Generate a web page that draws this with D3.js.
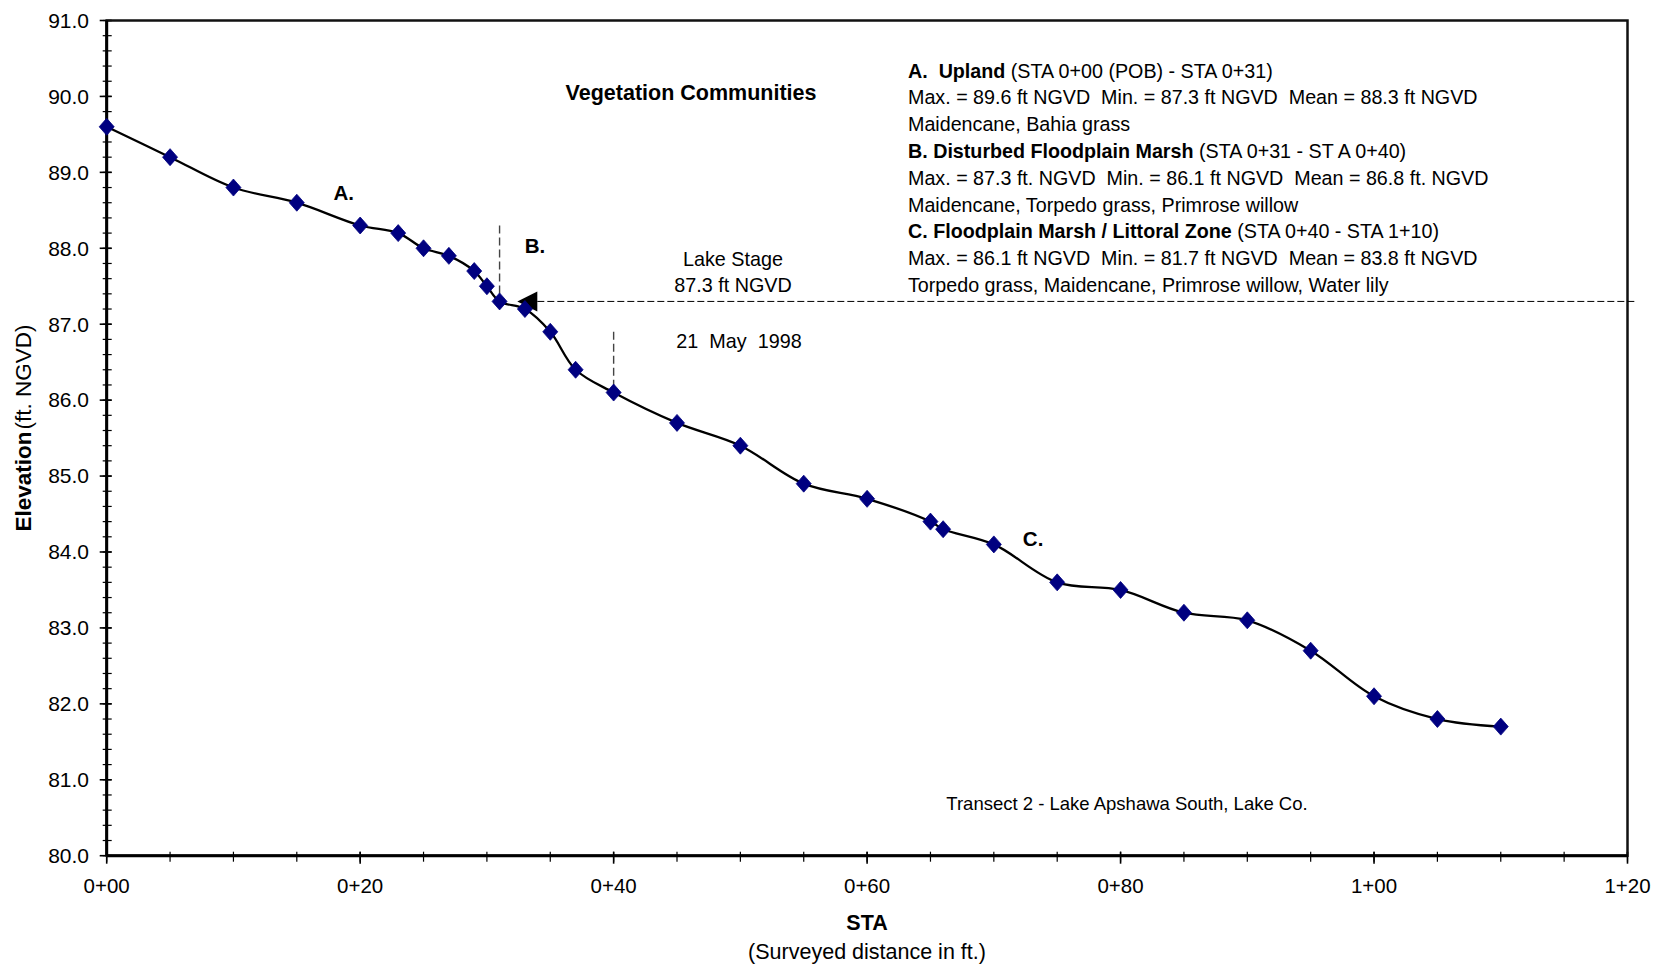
<!DOCTYPE html>
<html>
<head>
<meta charset="utf-8">
<script src="https://cdn.jsdelivr.net/npm/d3@7"></script>
<style>
  html, body { margin: 0; padding: 0; background: #fff; }
  svg { display: block; font-family: Arial, "Liberation Sans", sans-serif; }
</style>
</head>
<body>
<svg id="chart" width="1664" height="968"></svg>
<script>
// Surveyed stations (ft from POB) and ground elevations (ft NGVD)
const stations = [0, 5, 10, 15, 20, 23, 25, 27, 29, 30, 31, 33, 35, 37, 40, 45, 50, 55, 60, 65, 66, 70, 75, 80, 85, 90, 95, 100, 105, 110];
const elevations = [89.6, 89.2, 88.8, 88.6, 88.3, 88.2, 88.0, 87.9, 87.7, 87.5, 87.3, 87.2, 86.9, 86.4, 86.1, 85.7, 85.4, 84.9, 84.7, 84.4, 84.3, 84.1, 83.6, 83.5, 83.2, 83.1, 82.7, 82.1, 81.8, 81.7];

const xTicks = [0, 20, 40, 60, 80, 100, 120];
const xTickLabels = ["0+00", "0+20", "0+40", "0+60", "0+80", "1+00", "1+20"];
const yTicks = [80, 81, 82, 83, 84, 85, 86, 87, 88, 89, 90, 91];

const lakeStage = 87.3;
// Community boundaries: [station, top elevation of marker]
const boundaries = [[31, 88.3], [40, 86.9]];
const zoneLabels = [["A.", 18.7, 88.64], ["B.", 33.8, 87.94], ["C.", 73.1, 84.08]];

const legendLines = [
  [["A.  Upland", true], [" (STA 0+00 (POB) - STA 0+31)", false]],
  [["Max. = 89.6 ft NGVD  Min. = 87.3 ft NGVD  Mean = 88.3 ft NGVD", false]],
  [["Maidencane, Bahia grass", false]],
  [["B. Disturbed Floodplain Marsh", true], [" (STA 0+31 - ST A 0+40)", false]],
  [["Max. = 87.3 ft. NGVD  Min. = 86.1 ft NGVD  Mean = 86.8 ft. NGVD", false]],
  [["Maidencane, Torpedo grass, Primrose willow", false]],
  [["C. Floodplain Marsh / Littoral Zone", true], [" (STA 0+40 - STA 1+10)", false]],
  [["Max. = 86.1 ft NGVD  Min. = 81.7 ft NGVD  Mean = 83.8 ft NGVD", false]],
  [["Torpedo grass, Maidencane, Primrose willow, Water lily", false]]
];

const svg = d3.select("#chart");
const plotLeft = 106.7, plotRight = 1627.5, plotTop = 20.5, plotBottom = 855.7;

const x = d3.scaleLinear().domain([0, 120]).range([plotLeft, plotRight]);
const y = d3.scaleLinear().domain([80, 91]).range([plotBottom, plotTop]);

// Minor ticks
const xMinor = d3.range(0, 121, 5);
const yMinor = d3.range(80, 91.01, 0.2);

const g = svg.append("g");

g.selectAll("line.xminor").data(xMinor).join("line")
  .attr("x1", d => x(d)).attr("x2", d => x(d))
  .attr("y1", plotBottom - 4).attr("y2", plotBottom + 6)
  .attr("stroke", "#000").attr("stroke-width", 1.2);
g.selectAll("line.xmajor").data(xTicks).join("line")
  .attr("x1", d => x(d)).attr("x2", d => x(d))
  .attr("y1", plotBottom - 4).attr("y2", plotBottom + 8)
  .attr("stroke", "#000").attr("stroke-width", 1.6);

g.selectAll("line.yminor").data(yMinor).join("line")
  .attr("x1", plotLeft - 4).attr("x2", plotLeft + 5)
  .attr("y1", d => y(d)).attr("y2", d => y(d))
  .attr("stroke", "#000").attr("stroke-width", 1.2);
g.selectAll("line.ymajor").data(yTicks).join("line")
  .attr("x1", plotLeft - 7).attr("x2", plotLeft + 5)
  .attr("y1", d => y(d)).attr("y2", d => y(d))
  .attr("stroke", "#000").attr("stroke-width", 1.6);

// Plot frame
g.append("rect")
  .attr("x", plotLeft).attr("y", plotTop)
  .attr("width", plotRight - plotLeft).attr("height", plotBottom - plotTop)
  .attr("fill", "none").attr("stroke", "#111").attr("stroke-width", 2.5);
g.append("line")
  .attr("x1", plotLeft).attr("x2", plotRight).attr("y1", plotBottom).attr("y2", plotBottom)
  .attr("stroke", "#000").attr("stroke-width", 3);
g.append("line")
  .attr("x1", plotLeft).attr("x2", plotLeft).attr("y1", plotTop).attr("y2", plotBottom)
  .attr("stroke", "#000").attr("stroke-width", 3);

// Tick labels
g.selectAll("text.xt").data(xTicks).join("text")
  .attr("x", d => x(d)).attr("y", 893)
  .attr("text-anchor", "middle").attr("font-size", 20.5)
  .text((d, i) => xTickLabels[i]);
g.selectAll("text.yt").data(yTicks).join("text")
  .attr("x", 89).attr("y", d => y(d) + 7.3)
  .attr("text-anchor", "end").attr("font-size", 21)
  .text(d => d.toFixed(1));

// Axis titles
g.append("text").attr("x", 867).attr("y", 930)
  .attr("text-anchor", "middle").attr("font-size", 21.5).attr("font-weight", "bold")
  .text("STA");
g.append("text").attr("x", 867).attr("y", 959)
  .attr("text-anchor", "middle").attr("font-size", 21.5)
  .text("(Surveyed distance in ft.)");
const yt = g.append("text")
  .attr("transform", "translate(31,428) rotate(-90)")
  .attr("text-anchor", "middle").attr("font-size", 22.5);
yt.append("tspan").attr("font-weight", "bold").text("Elevation");
yt.append("tspan").attr("dx", 2).text("(ft. NGVD)");

// Community boundary markers
g.selectAll("line.bound").data(boundaries).join("line")
  .attr("x1", d => x(d[0])).attr("x2", d => x(d[0]))
  .attr("y1", d => y(d[1])).attr("y2", d => y(elevations[stations.indexOf(d[0])]))
  .attr("stroke", "#444").attr("stroke-width", 1.4)
  .attr("stroke-dasharray", "8,4");

// Lake stage line and arrow
const arrowTip = 32.4;
g.append("line")
  .attr("x1", x(arrowTip) + 20).attr("x2", plotRight + 9)
  .attr("y1", y(lakeStage)).attr("y2", y(lakeStage))
  .attr("stroke", "#000").attr("stroke-width", 1)
  .attr("stroke-dasharray", "7,3");
g.append("path")
  .attr("d", `M${x(arrowTip)},${y(lakeStage)} L${x(arrowTip) + 20},${y(lakeStage) - 10} L${x(arrowTip) + 20},${y(lakeStage) + 10} Z`)
  .attr("fill", "#000");

// Profile line
const pts = stations.map((s, i) => [s, elevations[i]]);
g.append("path")
  .datum(pts)
  .attr("d", d3.line().x(d => x(d[0])).y(d => y(d[1])).curve(d3.curveCatmullRom.alpha(0.5)))
  .attr("fill", "none").attr("stroke", "#000").attr("stroke-width", 2.3);

// Station markers
g.selectAll("path.pt").data(pts).join("path")
  .attr("transform", d => `translate(${x(d[0])},${y(d[1])})`)
  .attr("d", "M0,-8.5 L7.5,0 L0,8.5 L-7.5,0 Z")
  .attr("fill", "#000080")
  .attr("stroke", "#000080").attr("stroke-width", 0.8);

// Zone letters
g.selectAll("text.zone").data(zoneLabels).join("text")
  .attr("x", d => x(d[1])).attr("y", d => y(d[2]))
  .attr("text-anchor", "middle").attr("font-size", 20.5).attr("font-weight", "bold")
  .text(d => d[0]);

// Annotations
g.append("text").attr("x", 691).attr("y", 100)
  .attr("text-anchor", "middle").attr("font-size", 21.5).attr("font-weight", "bold")
  .text("Vegetation Communities");
g.append("text").attr("x", 733).attr("y", 265.5)
  .attr("text-anchor", "middle").attr("font-size", 19.8).text("Lake Stage");
g.append("text").attr("x", 733).attr("y", 292)
  .attr("text-anchor", "middle").attr("font-size", 19.8).text("87.3 ft NGVD");
g.append("text").attr("x", 739).attr("y", 347.5)
  .attr("text-anchor", "middle").attr("font-size", 19.8)
  .style("white-space", "pre")
  .text("21  May  1998");
g.append("text").attr("x", 1127).attr("y", 810)
  .attr("text-anchor", "middle").attr("font-size", 18.5)
  .text("Transect 2 - Lake Apshawa South, Lake Co.");

// Community descriptions
const block = g.append("g");
legendLines.forEach((parts, i) => {
  const t = block.append("text")
    .attr("x", 908).attr("y", 77.5 + i * 26.8)
    .attr("font-size", 19.7)
    .style("white-space", "pre");
  parts.forEach(p => {
    t.append("tspan").attr("font-weight", p[1] ? "bold" : "normal").text(p[0]);
  });
});
</script>
</body>
</html>
